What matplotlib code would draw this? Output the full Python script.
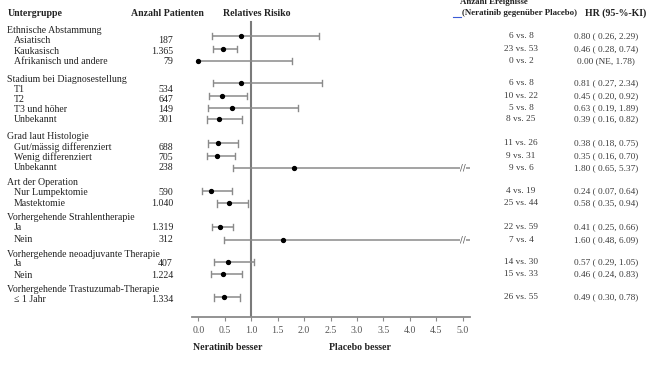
import numpy as np
import matplotlib
matplotlib.use("Agg")
import matplotlib.pyplot as plt

# ---------------- data ----------------
group_names = ["Ethnische Abstammung", "Stadium bei Diagnosestellung", "Grad laut Histologie",
               "Art der Operation", "Vorhergehende Strahlentherapie",
               "Vorhergehende neoadjuvante Therapie", "Vorhergehende Trastuzumab-Therapie"]
group_sizes = [3, 4, 3, 2, 2, 2, 1]
subgroups = ["Asiatisch", "Kaukasisch", "Afrikanisch und andere",
             "T1", "T2", "T3 und höher", "Unbekannt",
             "Gut/mässig differenziert", "Wenig differenziert", "Unbekannt",
             "Nur Lumpektomie", "Mastektomie",
             "Ja", "Nein",
             "Ja", "Nein",
             "≤ 1 Jahr"]
n_patients = [187, 1365, 79, 534, 647, 149, 301, 688, 705, 238, 590, 1040, 1319, 312, 407, 1224, 1334]
events_ner = [6, 23, 0, 6, 10, 5, 8, 11, 9, 9, 4, 25, 22, 7, 14, 15, 26]
events_pla = [8, 53, 2, 8, 22, 8, 25, 26, 31, 6, 19, 44, 59, 4, 30, 33, 55]
hr = [0.80, 0.46, 0.00, 0.81, 0.45, 0.63, 0.39, 0.38, 0.35, 1.80, 0.24, 0.58, 0.41, 1.60, 0.57, 0.46, 0.49]
ci_lo = [0.26, 0.28, np.nan, 0.27, 0.20, 0.19, 0.16, 0.18, 0.16, 0.65, 0.07, 0.35, 0.25, 0.48, 0.29, 0.24, 0.30]
ci_hi = [2.29, 0.74, 1.78, 2.34, 0.92, 1.89, 0.82, 0.75, 0.70, 5.37, 0.64, 0.94, 0.66, 6.09, 1.05, 0.83, 0.78]
xticks = [0.0, 0.5, 1.0, 1.5, 2.0, 2.5, 3.0, 3.5, 4.0, 4.5, 5.0]

# ---------------- layout (pixel rows) ----------------
W, H = 654, 374
header_y = [30.5, 79, 136.5, 183, 217, 254.5, 290]
label_y = [40.5, 51, 61.5, 89.5, 99.5, 109.5, 119.5, 147, 157.5, 167.5,
           193, 203.5, 228, 239, 264, 275, 300]
ci_y = [36, 49, 60.7, 83, 96, 107.7, 119.3, 143.3, 155.7, 167.7,
        191, 203.3, 226.7, 240, 262, 274, 297.3]

SERIF = ["Liberation Serif", "DejaVu Serif"]
plt.rcParams["font.family"] = SERIF
FS = 7.1
FS_R = 6.7
TXT = "#222222"
GREY_TXT = "#3a3a3a"
LINE = "#8a8a8a"

fig = plt.figure(figsize=(W / 100, H / 100), dpi=100)
fig.patch.set_facecolor("white")


def ftext(x, y, s, **kw):
    kw.setdefault("fontsize", FS)
    kw.setdefault("color", TXT)
    kw.setdefault("va", "center")
    fig.text(x / W, 1 - y / H, s, **kw)


# forest axes: x data = HR, y data = pixel row
ax_left, ax_right, ax_bottom = 191.7, 470.0, 316.7
x0_px, unit_px = 198.3, 52.9
ax = fig.add_axes([ax_left / W, (H - ax_bottom) / H, (ax_right - ax_left) / W, ax_bottom / H])
ax.set_xlim((ax_left - x0_px) / unit_px, (ax_right - x0_px) / unit_px)
ax.set_ylim(ax_bottom, 0)
ax.patch.set_alpha(0)
for s in ["top", "right", "left"]:
    ax.spines[s].set_visible(False)
ax.spines["bottom"].set_color(LINE)
ax.spines["bottom"].set_linewidth(1.3)
ax.set_yticks([])
ax.set_xticks(xticks)
ax.set_xticklabels([f"{t:.1f}" for t in xticks])
ax.tick_params(axis="x", direction="out", length=3, width=0.8, color=LINE,
               labelsize=FS, labelcolor="#555555", pad=4)

# reference line at HR = 1
ax.plot([1, 1], [22, ax_bottom], color="#7a7a7a", lw=1.5, zorder=1)

xmax = ax.get_xlim()[1]
cap = 3.2
for i in range(len(hr)):
    y = ci_y[i]
    lo = 0.0 if np.isnan(ci_lo[i]) else ci_lo[i]
    hi = ci_hi[i]
    right = min(hi, xmax)
    ax.plot([lo, right], [y, y], color=LINE, lw=1.1, zorder=2, solid_capstyle="butt")
    if not np.isnan(ci_lo[i]):
        ax.plot([lo, lo], [y - cap, y + cap], color=LINE, lw=1.0, zorder=2)
    if hi <= xmax:
        ax.plot([hi, hi], [y - cap, y + cap], color=LINE, lw=1.0, zorder=2)
    else:
        ax.text(5.0, y, "//", fontsize=6, color="#555555", ha="center", va="center",
                family=["DejaVu Sans"], zorder=3,
                bbox=dict(boxstyle="square,pad=0.05", fc="white", ec="none"))
    ax.plot([hr[i]], [y], "o", color="black", ms=2.8, zorder=4, clip_on=False)

# ---------------- headers ----------------
ftext(8, 13, "Untergruppe", fontweight="bold")
ftext(167, 13, "Anzahl Patienten", fontweight="bold", ha="center")
ftext(257, 13, "Relatives Risiko", fontweight="bold", ha="center")
ftext(460, 2.5, "Anzahl Ereignisse", fontweight="bold", fontsize=6.4)
ftext(462, 13, "(Neratinib gegenüber Placebo)", fontweight="bold", fontsize=6.4)
ftext(616, 13, "HR (95-%-KI)", fontweight="bold", ha="center")
fig.add_artist(plt.Line2D([453 / W, 461 / W], [1 - 16.5 / H, 1 - 16.5 / H],
                          color="#3b5bd6", lw=0.8))

# ---------------- rows ----------------
k = 0
for g, name in enumerate(group_names):
    ftext(7, header_y[g], name)
    for _ in range(group_sizes[g]):
        ftext(14, label_y[k], subgroups[k])
        ftext(173, label_y[k], f"{n_patients[k]:,}".replace(",", "."), ha="right")
        ftext(521, ci_y[k], f"{events_ner[k]} vs. {events_pla[k]}", ha="center",
              color=GREY_TXT, fontsize=FS_R)
        if np.isnan(ci_lo[k]):
            s = f"{hr[k]:.2f} (NE, {ci_hi[k]:.2f})"
        else:
            s = f"{hr[k]:.2f} ( {ci_lo[k]:.2f}, {ci_hi[k]:.2f})"
        ftext(606, ci_y[k], s, ha="center", color=GREY_TXT, fontsize=FS_R)
        k += 1

ftext(193, 347, "Neratinib besser", fontweight="bold")
ftext(329, 347, "Placebo besser", fontweight="bold")

fig.savefig("out.png", dpi=100, facecolor="white")
